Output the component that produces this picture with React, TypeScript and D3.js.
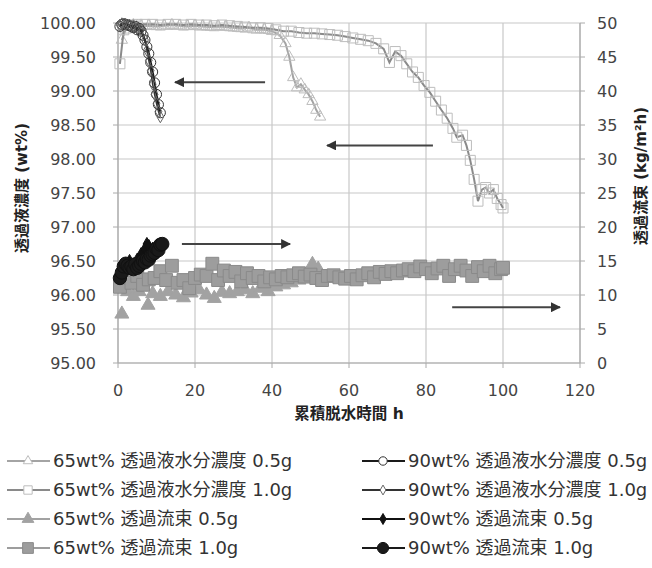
import React from 'react';
import * as d3 from 'd3';

// 65wt% 透過液水分濃度 0.5g
const hours65c05 = [1, 2, 3, 4, 5, 6, 8, 10, 12, 14, 16, 18, 20, 22, 24, 26, 28, 30, 32, 34, 36, 38, 40, 42, 43.5, 44.5, 45.5, 46.5, 47.5, 48.5, 49.5, 50.5, 51.5, 52.5];
const conc65c05 = [99.75, 99.9, 99.95, 99.97, 99.96, 99.95, 99.96, 99.95, 99.96, 99.97, 99.96, 99.95, 99.96, 99.95, 99.94, 99.95, 99.94, 99.93, 99.92, 99.93, 99.9, 99.9, 99.88, 99.82, 99.7, 99.5, 99.2, 99.05, 99.1, 99.02, 98.95, 98.85, 98.72, 98.62];

// 65wt% 透過液水分濃度 1.0g
const hours65c10 = [0.5, 1.5, 3, 5, 7, 9, 11, 13, 15, 17, 19, 21, 23, 25, 27, 29, 31, 33, 35, 37, 39, 41, 43, 45, 47, 49, 51, 53, 55, 57, 59, 61, 63, 65, 67, 69, 70.5, 72, 73.5, 75, 76.5, 78, 79.5, 81, 82.5, 84, 85.5, 87, 88, 89.5, 90.5, 91.5, 92.5, 93.5, 94.5, 95.5, 96.5, 97.5, 98.5, 99.5, 100];
const conc65c10 = [99.4, 99.9, 99.97, 99.98, 99.98, 99.98, 99.97, 99.98, 99.98, 99.97, 99.98, 99.97, 99.97, 99.96, 99.97, 99.96, 99.95, 99.94, 99.93, 99.93, 99.92, 99.9, 99.88, 99.88, 99.86, 99.85, 99.85, 99.84, 99.83, 99.82, 99.8, 99.78, 99.76, 99.74, 99.7, 99.62, 99.42, 99.58, 99.52, 99.4, 99.28, 99.2, 99.08, 98.98, 98.85, 98.72, 98.6, 98.45, 98.32, 98.35, 98.2, 97.98, 97.7, 97.38, 97.55, 97.58, 97.5, 97.55, 97.42, 97.33, 97.28];

// 65wt% 透過流束 0.5g
const hours65f05 = [1, 2.5, 4, 5.5, 7.8, 9, 11, 13, 15, 17, 19, 21, 23, 25, 27, 29, 31, 33, 35, 37, 39, 41, 43, 45, 47, 49, 50.5, 52];
const flux65f05 = [7.2, 10.5, 9.8, 10.5, 8.5, 10.2, 9.8, 10.5, 10, 9.6, 10.3, 10.8, 10, 9.5, 10.4, 10.2, 10.5, 10.8, 10.2, 11, 10.5, 11.2, 11.5, 11.8, 12.2, 13, 14.5, 13.8];

// 65wt% 透過流束 1.0g
const hours65f10 = [0.5, 2, 3.5, 5, 6.5, 8, 9.5, 11, 12.5, 14, 15.5, 17, 18.5, 20, 21.5, 23, 24.5, 26, 27.5, 29, 30.5, 32, 33.5, 35, 36.5, 38, 39.5, 41, 42.5, 44, 45.5, 47, 48.5, 50, 51.5, 53, 54.5, 56, 57.5, 59, 60.5, 62, 63.5, 65, 66.5, 68, 69.5, 71, 72.5, 74, 75.5, 77, 78.5, 80, 81.5, 83, 84.5, 86, 87.5, 89, 90.5, 92, 93.5, 95, 96.5, 98, 99.5, 100];
const flux65f10 = [11.2, 12.5, 11.8, 12.8, 11.5, 12.3, 12.5, 13.5, 12.2, 14.3, 11.8, 12.2, 11, 12.5, 13, 12.8, 14.6, 12.2, 13.6, 12.8, 13.4, 12, 13.2, 12.5, 12.8, 12, 12.6, 12.3, 12.8, 12.6, 12.9, 13.2, 12.7, 13, 12.5, 12.2, 12.8, 12.9, 12.6, 12.4, 12.8, 12.3, 12.9, 13.2, 12.6, 13.4, 13.1, 13.5, 13.2, 13.6, 13.8, 13.5, 14.2, 13.8, 13.2, 13.9, 14.3, 12.8, 13.8, 14.3, 13.6, 12.8, 14.1, 13.5, 14.3, 13.2, 13.8, 14];

// 90wt% 透過液水分濃度 0.5g
const hours90c05 = [0.5, 1, 1.5, 2, 2.5, 3, 3.5, 4, 4.5, 5, 5.5, 6, 6.5, 7, 7.5, 8, 8.5, 9, 9.5, 10, 10.5, 11];
const conc90c05 = [99.95, 99.98, 99.99, 99.98, 99.97, 99.96, 99.95, 99.93, 99.95, 99.9, 99.92, 99.88, 99.82, 99.75, 99.65, 99.55, 99.42, 99.28, 99.12, 98.95, 98.8, 98.68];

// 90wt% 透過液水分濃度 1.0g
const hours90c10 = [0.5, 1, 2, 3, 4, 5, 6, 7, 7.5, 8, 8.5, 9, 9.5, 10, 10.5, 11];
const conc90c10 = [99.97, 99.99, 99.98, 99.97, 99.96, 99.93, 99.9, 99.75, 99.6, 99.45, 99.3, 99.1, 98.95, 98.82, 98.7, 98.62];

// 90wt% 透過流束 0.5g
const hours90f05 = [0.5, 1, 2, 3, 4, 5, 6, 7, 7.5, 8, 9, 10, 11];
const flux90f05 = [13, 13.8, 14.5, 15, 14.5, 15.2, 16, 16.8, 17.5, 17.2, 16.8, 17.2, 17.5];

// 90wt% 透過流束 1.0g
const hours90f10 = [0.5, 1, 1.5, 2, 2.5, 3, 3.5, 4, 4.5, 5, 5.5, 6, 6.5, 7, 7.5, 8, 8.5, 9, 9.5, 10, 10.5, 11, 11.5];
const flux90f10 = [12.5, 13.3, 14.2, 14.6, 14.3, 14, 14.2, 13.8, 14.5, 14, 14.3, 14.6, 15, 14.8, 15.3, 15.2, 15.8, 16, 16.2, 16.8, 16.6, 17.4, 17.5];

const xTicks = [0, 20, 40, 60, 80, 100, 120];
const leftTicks = [95, 95.5, 96, 96.5, 97, 97.5, 98, 98.5, 99, 99.5, 100];
const rightTicks = [0, 5, 10, 15, 20, 25, 30, 35, 40, 45, 50];

// arrows: [from h, to h, value on left axis]
const arrows: [number, number, number][] = [
  [38.2, 14.8, 99.13],
  [81.8, 54.3, 98.2],
  [16.6, 44.7, 96.75],
  [86.8, 114.8, 95.82],
];

const FONT = '"DejaVu Sans", "Noto Sans CJK JP", sans-serif';

const x = d3.scaleLinear().domain([0, 120]).range([118, 580]);
const yL = d3.scaleLinear().domain([95, 100]).range([363, 23]);
const yR = d3.scaleLinear().domain([0, 50]).range([363, 23]);

type Mark = {
  name: string;
  hours: number[];
  vals: number[];
  axis: 'left' | 'right';
  line: string;
  lineWidth: number;
  symbol: d3.SymbolType;
  size: number;
  fill: string;
  stroke: string;
};

const series: Mark[] = [
  { name: '65wt%  透過液水分濃度 0.5g', hours: hours65c05, vals: conc65c05, axis: 'left', line: '#a4a4a4', lineWidth: 2, symbol: d3.symbolTriangle, size: 55, fill: 'none', stroke: '#bdbdbd' },
  { name: '65wt% 透過液水分濃度 1.0g', hours: hours65c10, vals: conc65c10, axis: 'left', line: '#8a8a8a', lineWidth: 2, symbol: d3.symbolSquare, size: 100, fill: 'none', stroke: '#bdbdbd' },
  { name: '65wt% 透過流束 0.5g', hours: hours65f05, vals: flux65f05, axis: 'right', line: 'none', lineWidth: 0, symbol: d3.symbolTriangle, size: 85, fill: '#a2a2a2', stroke: '#a2a2a2' },
  { name: '65wt% 透過流束 1.0g', hours: hours65f10, vals: flux65f10, axis: 'right', line: 'none', lineWidth: 0, symbol: d3.symbolSquare, size: 165, fill: '#9d9d9d', stroke: '#8a8a8a' },
  { name: '90wt% 透過液水分濃度 0.5g', hours: hours90c05, vals: conc90c05, axis: 'left', line: '#1a1a1a', lineWidth: 2.2, symbol: d3.symbolCircle, size: 80, fill: 'none', stroke: '#333' },
  { name: '90wt% 透過液水分濃度 1.0g', hours: hours90c10, vals: conc90c10, axis: 'left', line: '#333', lineWidth: 1.5, symbol: d3.symbolDiamond, size: 40, fill: 'none', stroke: '#666' },
  { name: '90wt% 透過流束 0.5g', hours: hours90f05, vals: flux90f05, axis: 'right', line: 'none', lineWidth: 0, symbol: d3.symbolDiamond, size: 50, fill: '#111', stroke: '#111' },
  { name: '90wt% 透過流束 1.0g', hours: hours90f10, vals: flux90f10, axis: 'right', line: 'none', lineWidth: 0, symbol: d3.symbolCircle, size: 140, fill: '#1a1a1a', stroke: '#111' },
];

function Markers({ s }: { s: Mark }) {
  const y = s.axis === 'left' ? yL : yR;
  const path = d3.symbol().type(s.symbol).size(s.size)() as string;
  const line = d3.line<number>().x((_, i) => x(s.hours[i])).y((v) => y(v));
  return (
    <g>
      {s.line !== 'none' && (
        <path d={line(s.vals) as string} fill="none" stroke={s.line} strokeWidth={s.lineWidth} />
      )}
      {s.vals.map((v, i) => (
        <path
          key={i}
          d={path}
          transform={`translate(${x(s.hours[i])},${y(v)})`}
          fill={s.fill}
          stroke={s.stroke}
          strokeWidth={1}
        />
      ))}
    </g>
  );
}

function LegendItem({ s, lx, ly }: { s: Mark; lx: number; ly: number }) {
  const path = d3.symbol().type(s.symbol).size(s.size * 0.7)() as string;
  const lineColor = s.line !== 'none' ? s.line : s.fill;
  return (
    <g>
      <line x1={lx} x2={lx + 43} y1={ly} y2={ly} stroke={lineColor} strokeWidth={2} />
      <path d={path} transform={`translate(${lx + 21},${ly})`} fill={s.fill === 'none' ? '#fff' : s.fill} stroke={s.stroke} />
      <text x={lx + 46} y={ly} dy="0.35em" fontSize={18} fill="#333" fontFamily={FONT}>
        {s.name}
      </text>
    </g>
  );
}

export default function App() {
  const [x0, x1] = x.range();
  const [yb, yt] = yL.range();
  return (
    <svg width={652} height={568} style={{ position: 'absolute', left: 0, top: 0, background: '#fff' }}>
      <defs>
        <marker id="ah" viewBox="0 0 10 10" refX="9" refY="5" markerWidth="5" markerHeight="5" orient="auto-start-reverse">
          <path d="M0,0 L10,5 L0,10 z" fill="#333" />
        </marker>
      </defs>
      {/* grid */}
      {leftTicks.map((t) => (
        <line key={'h' + t} x1={x0} x2={x1} y1={yL(t)} y2={yL(t)} stroke="#c8c8c8" strokeWidth={1.2} />
      ))}
      {xTicks.map((t) => (
        <line key={'v' + t} x1={x(t)} x2={x(t)} y1={yt} y2={yb} stroke="#c8c8c8" strokeWidth={1.2} />
      ))}
      {/* axes */}
      <line x1={x0} x2={x0} y1={yt} y2={yb} stroke="#aaa" strokeWidth={1.2} />
      <line x1={x1} x2={x1} y1={yt} y2={yb} stroke="#aaa" strokeWidth={1.2} />
      <line x1={x0} x2={x1} y1={yb} y2={yb} stroke="#aaa" strokeWidth={1.2} />
      {leftTicks.map((t) => (
        <g key={'lt' + t}>
          <line x1={x0 - 5} x2={x0} y1={yL(t)} y2={yL(t)} stroke="#aaa" />
          <text x={96} y={yL(t)} dy="0.35em" textAnchor="end" fontSize={16} fill="#444" fontFamily={FONT}>
            {d3.format('.2f')(t)}
          </text>
        </g>
      ))}
      {rightTicks.map((t) => (
        <g key={'rt' + t}>
          <line x1={x1} x2={x1 + 5} y1={yR(t)} y2={yR(t)} stroke="#aaa" />
          <text x={597} y={yR(t)} dy="0.35em" textAnchor="start" fontSize={16} fill="#444" fontFamily={FONT}>
            {t}
          </text>
        </g>
      ))}
      {xTicks.map((t) => (
        <g key={'xt' + t}>
          <line x1={x(t)} x2={x(t)} y1={yb} y2={yb + 5} stroke="#aaa" />
          <text x={x(t)} y={390} dy="0.35em" textAnchor="middle" fontSize={16} fill="#444" fontFamily={FONT}>
            {t}
          </text>
        </g>
      ))}
      {/* titles */}
      <text transform="translate(22,188) rotate(-90)" textAnchor="middle" dy="0.35em" fontSize={15} fontWeight="bold" fill="#222" fontFamily={FONT}>
        透過液濃度 (wt%)
      </text>
      <text transform="translate(641,176) rotate(-90)" textAnchor="middle" dy="0.35em" fontSize={15} fontWeight="bold" fill="#222" fontFamily={FONT}>
        透過流束 (kg/m²h)
      </text>
      <text x={349} y={414} dy="0.35em" textAnchor="middle" fontSize={15.5} fontWeight="bold" fill="#222" fontFamily={FONT}>
        累積脱水時間  h
      </text>
      {/* data */}
      {series.map((s) => (
        <Markers key={s.name} s={s} />
      ))}
      {/* arrows */}
      {arrows.map(([a, b, v], i) => (
        <line key={'a' + i} x1={x(a)} x2={x(b)} y1={yL(v)} y2={yL(v)} stroke="#444" strokeWidth={2} markerEnd="url(#ah)" />
      ))}
      {/* legend */}
      {series.slice(0, 4).map((s, i) => (
        <LegendItem key={'l' + i} s={s} lx={7} ly={461 + i * 29} />
      ))}
      {series.slice(4).map((s, i) => (
        <LegendItem key={'r' + i} s={s} lx={362} ly={461 + i * 29} />
      ))}
    </svg>
  );
}
